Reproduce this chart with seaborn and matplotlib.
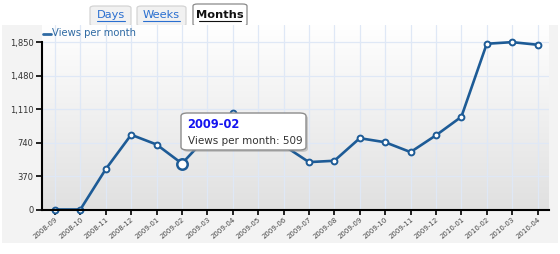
import numpy as np
import pandas as pd
import matplotlib
matplotlib.use("Agg")
import matplotlib.pyplot as plt
from matplotlib.patches import FancyBboxPatch, Rectangle
import seaborn as sns

months = ["2008-09", "2008-10", "2008-11", "2008-12", "2009-01", "2009-02",
          "2009-03", "2009-04", "2009-05", "2009-06", "2009-07", "2009-08",
          "2009-09", "2009-10", "2009-11", "2009-12", "2010-01", "2010-02",
          "2010-03", "2010-04"]
views = [0, 0, 447, 828, 720, 509, 810, 1064, 860, 710, 525, 540,
         790, 745, 636, 822, 1027, 1836, 1854, 1825]
y_ticks = [0, 370, 740, 1110, 1480, 1850]
tabs = ["Days", "Weeks", "Months"]
series_name = "Views per month"
hover_month = "2009-02"

sns.set_theme(style="white")
plt.rcParams['font.family'] = ['DejaVu Sans']

W, H = 560, 254
fig = plt.figure(figsize=(W / 100, H / 100), dpi=100)
fig.patch.set_facecolor("white")

def fx(px):
    return px / W

def fy(py):
    return 1 - py / H

# panel background
fig.patches.append(Rectangle((fx(2), fy(243)), fx(556), (243 - 25) / H,
                             transform=fig.transFigure, facecolor="#f3f3f3",
                             edgecolor="none", zorder=-5))

# tabs
tab_boxes = [(90, 131), (137, 186), (193, 247)]
for name, (x0, x1) in zip(tabs, tab_boxes):
    sel = name == "Months"
    top = 4 if sel else 6
    fig.patches.append(FancyBboxPatch((fx(x0), fy(26)), fx(x1 - x0), (26 - top) / H,
                                      boxstyle="round,pad=0,rounding_size=0.008",
                                      transform=fig.transFigure,
                                      facecolor="#ffffff" if sel else "#f1f1f1",
                                      edgecolor="#8a8a8a" if sel else "#d4d4d4",
                                      linewidth=0.9, zorder=1))
    fig.text(fx((x0 + x1) / 2), fy(15.5), name, ha="center", va="center",
             fontsize=8.2, fontweight="bold" if sel else "normal",
             color="#111111" if sel else "#2a6fd0", zorder=2)
    tw = {"Days": 28, "Weeks": 37, "Months": 42}[name]
    cx = (x0 + x1) / 2
    fig.lines.append(plt.Line2D([fx(cx - tw / 2), fx(cx + tw / 2)], [fy(20.5), fy(20.5)],
                                transform=fig.transFigure, lw=0.8,
                                color="#111111" if sel else "#2a6fd0", zorder=2))

# axes
left, right, top_px, bottom_px = 42, 549, 25, 209.5
ax = fig.add_axes([fx(left), fy(bottom_px), fx(right - left), (bottom_px - top_px) / H])
ax.set_zorder(2)
ax.set_facecolor("none")

# gradient background
grad = np.linspace(1.0, 0.0, 256).reshape(-1, 1)
c_top = np.array([1.0, 1.0, 1.0])
c_bot = np.array([0.88, 0.88, 0.88])
img = c_bot + (c_top - c_bot) * grad[..., None] * np.ones((1, 2, 1))
ax.imshow(img, extent=[0, 1, 0, 1], transform=ax.transAxes, aspect="auto", zorder=0)

df = pd.DataFrame({"idx": np.arange(len(months)), "views": views, "month": months})

for i in range(len(months)):
    ax.axvline(i, color="#dfe8f6", lw=0.9, zorder=1)
for t in y_ticks[1:]:
    ax.axhline(t, color="#dfe8f6", lw=0.9, zorder=1)

sns.lineplot(data=df, x="idx", y="views", ax=ax, color="#1d5b96", lw=1.9,
             marker="o", markersize=4.2, markerfacecolor="white",
             markeredgecolor="#1d5b96", markeredgewidth=1.4, zorder=3,
             clip_on=False, legend=False)

hi = months.index(hover_month)
ax.plot([hi], [views[hi]], marker="o", markersize=7.5, markerfacecolor="white",
        markeredgecolor="#1d5b96", markeredgewidth=1.8, zorder=4, clip_on=False)

ax.set_xlim(-0.51, len(months) - 1 + 0.45)
ax.set_ylim(0, 1850 * (bottom_px - top_px) / (bottom_px - 42.5))
ax.set_yticks(y_ticks)
ax.set_yticklabels([f"{v:,}" for v in y_ticks], fontsize=6, color="#333333")
ax.set_xticks(range(len(months)))
ax.set_xticklabels(months, rotation=40, ha="right", rotation_mode="anchor",
                   fontsize=5, color="#444444")
ax.tick_params(axis="y", which="both", direction="out", length=4, width=1.2,
               color="black", left=True, pad=2)
ax.tick_params(axis="x", which="both", direction="out", length=3.5, width=1.2,
               color="black", bottom=True, pad=1.5)
ax.set_xlabel("")
ax.set_ylabel("")
for s in ["top", "right"]:
    ax.spines[s].set_visible(False)
for s in ["left", "bottom"]:
    ax.spines[s].set_visible(True)
    ax.spines[s].set_color("black")
    ax.spines[s].set_linewidth(1.5)
    ax.spines[s].set_zorder(5)
ax.spines["left"].set_bounds(0, 1850)

# legend
fig.lines.append(plt.Line2D([fx(43), fx(51)], [fy(33.5), fy(33.5)],
                            transform=fig.transFigure, lw=2, color="#2f6aa3", zorder=6))
fig.text(fx(52.5), fy(33.5), series_name, ha="left", va="center", fontsize=7.2,
         color="#2f6aa3", zorder=6)

# tooltip
fig.patches.append(FancyBboxPatch((fx(183), fy(152)), fx(125), 37 / H,
                                  boxstyle="round,pad=0,rounding_size=0.012",
                                  transform=fig.transFigure, facecolor="#9a9a9a",
                                  edgecolor="none", alpha=0.45, zorder=6))
fig.patches.append(FancyBboxPatch((fx(181), fy(150)), fx(125), 37 / H,
                                  boxstyle="round,pad=0,rounding_size=0.012",
                                  transform=fig.transFigure, facecolor="white",
                                  edgecolor="#8c8c8c", linewidth=1, zorder=7))
fig.text(fx(187.5), fy(125), hover_month, ha="left", va="center", fontsize=8.3,
         fontweight="bold", color="#1414f0", zorder=8)
fig.text(fx(187.5), fy(140.5), f"{series_name}: {views[hi]}", ha="left", va="center",
         fontsize=7.5, color="#333333", zorder=8)

fig.savefig("out.png", dpi=100, facecolor=fig.get_facecolor())
